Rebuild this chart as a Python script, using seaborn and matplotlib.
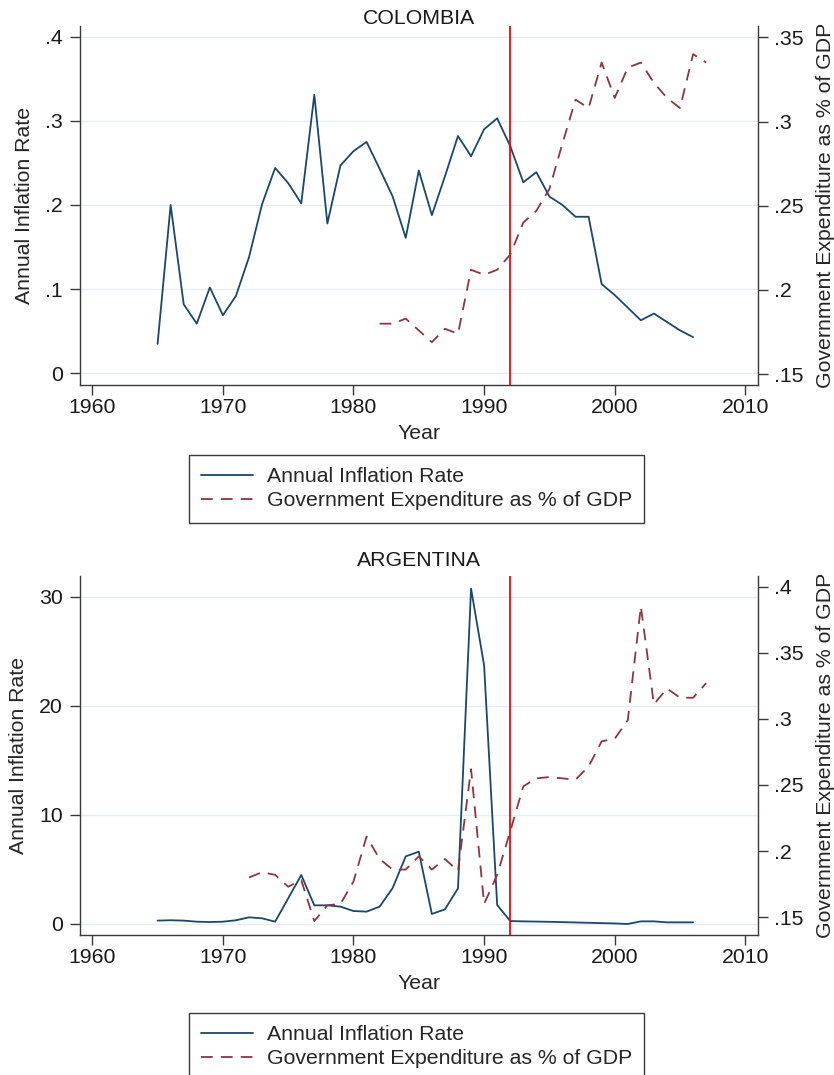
import matplotlib
matplotlib.use("Agg")
import matplotlib.pyplot as plt
import seaborn as sns
import pandas as pd

# ---------------- data ----------------
col_infl_years = list(range(1965, 2007))
col_infl = [0.035, 0.200, 0.082, 0.059, 0.102, 0.069, 0.092, 0.138, 0.201, 0.244,
            0.226, 0.202, 0.331, 0.178, 0.247, 0.264, 0.275, 0.243, 0.210, 0.161,
            0.241, 0.188, 0.234, 0.282, 0.258, 0.290, 0.303, 0.270, 0.227, 0.239,
            0.210, 0.200, 0.186, 0.186, 0.106, 0.093, 0.078, 0.063, 0.071, 0.061,
            0.051, 0.043]
col_gov_years = list(range(1982, 2008))
col_gov = [0.180, 0.180, 0.183, 0.176, 0.169, 0.177, 0.174, 0.212, 0.209, 0.212,
           0.221, 0.240, 0.247, 0.260, 0.287, 0.313, 0.308, 0.335, 0.314, 0.332,
           0.335, 0.323, 0.314, 0.308, 0.340, 0.335]

arg_infl_years = list(range(1965, 2007))
arg_infl = [0.31, 0.34, 0.31, 0.21, 0.18, 0.21, 0.34, 0.61, 0.52, 0.21,
            2.35, 4.49, 1.71, 1.71, 1.59, 1.19, 1.13, 1.59, 3.30, 6.20,
            6.63, 0.92, 1.34, 3.27, 30.75, 23.70, 1.74, 0.27, 0.24, 0.22,
            0.20, 0.17, 0.14, 0.11, 0.08, 0.05, 0.00, 0.24, 0.24, 0.15,
            0.15, 0.15]
arg_gov_years = list(range(1972, 2008))
arg_gov = [0.180, 0.184, 0.182, 0.173, 0.178, 0.147, 0.159, 0.160, 0.177, 0.211,
           0.194, 0.186, 0.186, 0.196, 0.186, 0.194, 0.185, 0.262, 0.160, 0.182,
           0.215, 0.249, 0.255, 0.256, 0.255, 0.254, 0.264, 0.283, 0.285, 0.299,
           0.385, 0.311, 0.323, 0.316, 0.316, 0.327]

reform_year = 1992
x_ticks = [1960, 1970, 1980, 1990, 2000, 2010]
col_left_ticks = [0, 0.1, 0.2, 0.3, 0.4]
col_left_labels = ["0", ".1", ".2", ".3", ".4"]
col_right_ticks = [0.15, 0.2, 0.25, 0.3, 0.35]
col_right_labels = [".15", ".2", ".25", ".3", ".35"]
arg_left_ticks = [0, 10, 20, 30]
arg_left_labels = ["0", "10", "20", "30"]
arg_right_ticks = [0.15, 0.2, 0.25, 0.3, 0.35, 0.4]
arg_right_labels = [".15", ".2", ".25", ".3", ".35", ".4"]

infl_label = "Annual Inflation Rate"
gov_label = "Government Expenditure as % of GDP"

# ---------------- style ----------------
sns.set_style("white")
plt.rcParams["font.family"] = ["Liberation Sans", "DejaVu Sans"]

NAVY = "#1a476f"
MAROON = "#90353b"
SPINE = "#3a3a3a"
GRID = "#e6eef0"
FS = 15.3

W, H = 834, 1075
fig = plt.figure(figsize=(W / 100, H / 100), dpi=100)


def px_axes(x0, y0, x1, y1):
    return fig.add_axes([x0 / W, 1 - y1 / H, (x1 - x0) / W, (y1 - y0) / H])


def panel(ax, title, title_y, iy, ix, gy, gx, lt, ll, rt, rl, lylim, rylim, legend_top):
    df_i = pd.DataFrame({"Year": ix, "v": iy})
    df_g = pd.DataFrame({"Year": gx, "v": gy})
    ax.set_xlim(1959.06, 2010.97)
    ax.set_ylim(*lylim)
    ax.set_yticks(lt, ll)
    ax.set_xticks(x_ticks, [str(t) for t in x_ticks])
    for t in lt:
        ax.axhline(t, color=GRID, lw=1.0, zorder=0)
    sns.lineplot(data=df_i, x="Year", y="v", ax=ax, color=NAVY, lw=1.3, legend=False)
    infl_line = ax.get_lines()[-1]
    ax.axvline(reform_year, color="red", lw=1.3, zorder=5)
    ax2 = ax.twinx()
    sns.lineplot(data=df_g, x="Year", y="v", ax=ax2, color=MAROON, lw=1.3,
                 linestyle="--", legend=False)
    gov_line = ax2.get_lines()[-1]
    gov_line.set_dashes([6.5, 4.5])
    ax2.set_ylim(*rylim)
    ax2.set_yticks(rt, rl)
    ax2.set_xlim(1959.06, 2010.97)

    ax.set_xlabel("Year", fontsize=FS, labelpad=5)
    ax.set_ylabel(infl_label, fontsize=FS, labelpad=8)
    ax2.set_ylabel(gov_label, fontsize=FS, labelpad=9)
    fig.text(419 / W, 1 - title_y / H, title, fontsize=FS, ha="center",
             va="center", color="#1a1a1a")

    for a in (ax, ax2):
        for s in a.spines.values():
            s.set_color(SPINE)
            s.set_linewidth(1.0)
        a.spines["top"].set_visible(False)
        a.tick_params(axis="both", direction="out", length=7.2, width=1.0,
                      color=SPINE, labelsize=FS, labelcolor="#1a1a1a")
    ax.tick_params(axis="y", pad=5, left=True)
    ax.tick_params(axis="x", pad=2, bottom=True)
    ax2.tick_params(axis="y", pad=4, right=True)
    ax.spines["right"].set_visible(False)
    ax2.spines["left"].set_visible(False)
    ax2.spines["bottom"].set_visible(False)

    fig.legend([infl_line, gov_line], [infl_label, gov_label],
               loc="upper left", bbox_to_anchor=(188.5 / W, 1 - legend_top / H),
               bbox_transform=fig.transFigure, borderaxespad=0,
               fontsize=FS, handlelength=2.45, handletextpad=0.66,
               labelspacing=0.24, borderpad=0.58, frameon=True, fancybox=False,
               edgecolor=SPINE, framealpha=1)


ax_top = px_axes(80, 26, 758, 385)
panel(ax_top, "COLOMBIA", 19, col_infl, col_infl_years, col_gov, col_gov_years,
      col_left_ticks, col_left_labels, col_right_ticks, col_right_labels,
      (-0.0139, 0.4127), (0.1436, 0.3567), 455)

ax_bot = px_axes(80, 576, 758, 935)
panel(ax_bot, "ARGENTINA", 560, arg_infl, arg_infl_years, arg_gov, arg_gov_years,
      arg_left_ticks, arg_left_labels, arg_right_ticks, arg_right_labels,
      (-1.01, 31.9), (0.1365, 0.4081), 1013)

fig.savefig("out.png", dpi=100)
